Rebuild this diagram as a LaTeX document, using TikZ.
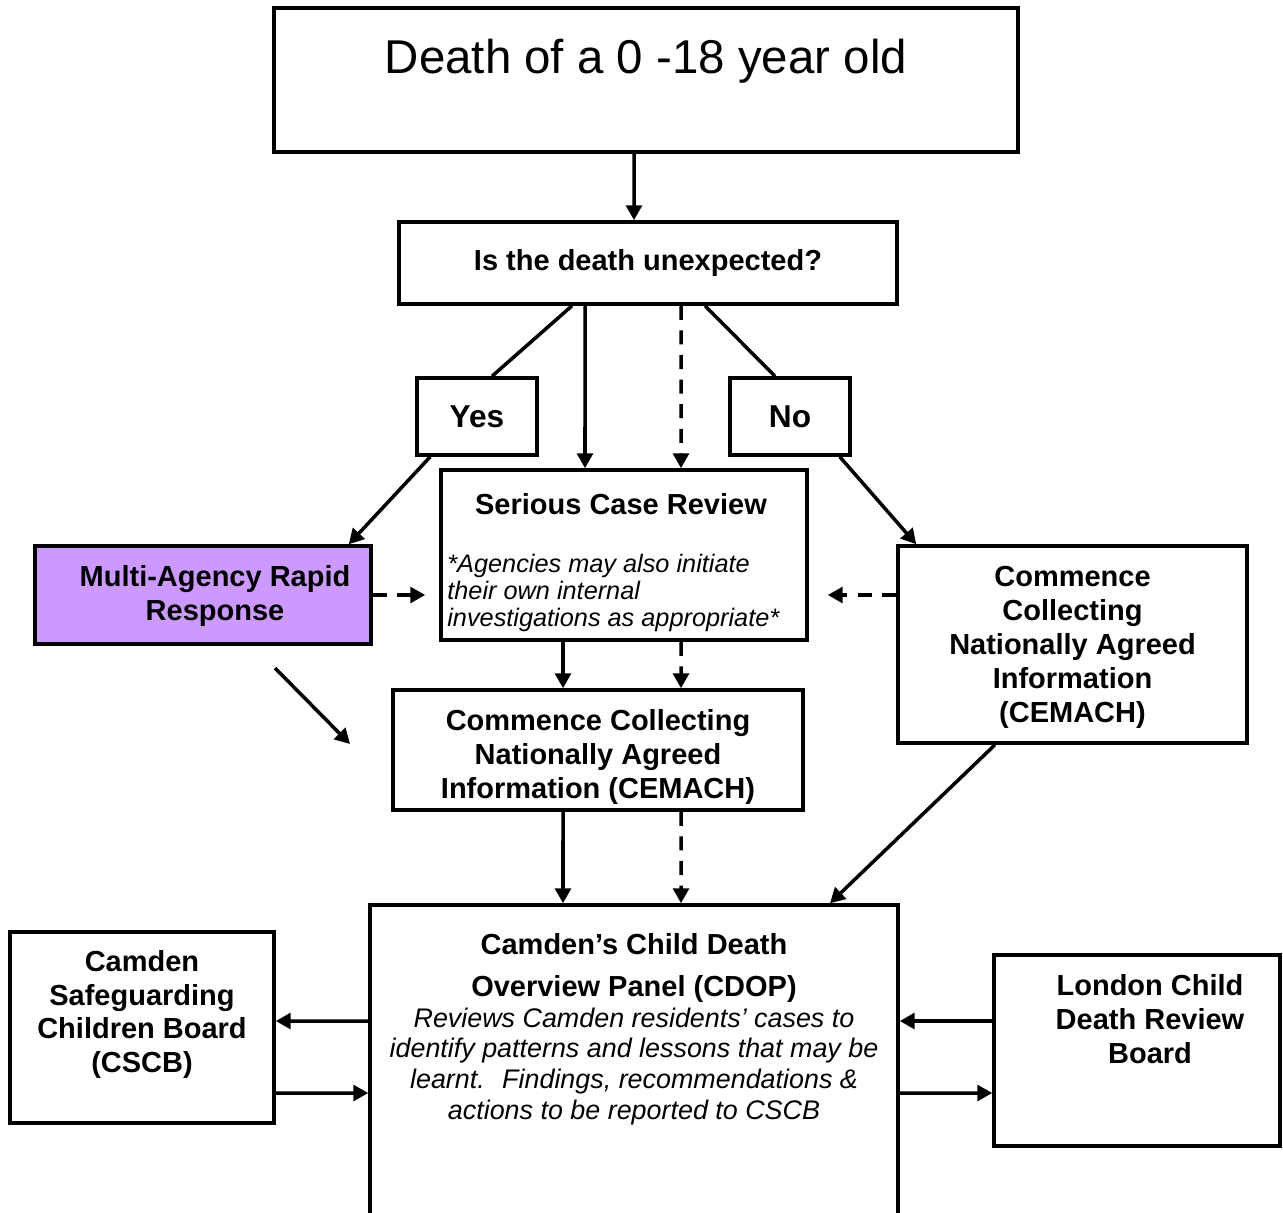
\documentclass[tikz,border=0pt]{standalone}
\usepackage{fontspec}
\setmainfont{Liberation Sans}
\usepackage{tikz}
\definecolor{rrpurple}{HTML}{CC99FF}
\usetikzlibrary{arrows.meta}
\usetikzlibrary{positioning}

\begin{document}
\begin{tikzpicture}
    \tikzset{
      box/.style={draw, line width=2pt, inner sep=0pt, align=center,
        font=\fontsize{16.5}{19.3}\selectfont\bfseries},
      lbl/.style={inner sep=0pt, align=center,
        font=\fontsize{16.5}{19.3}\selectfont\bfseries},
      note/.style={inner sep=0pt, align=left,
        font=\fontsize{14.4}{15.3}\selectfont\itshape},
      arr/.style={line width=2pt, -{Triangle[length=8.5pt,width=9pt]}},
      darr/.style={arr, dash pattern=on 8pt off 6pt}}
    \useasboundingbox (0,0) rectangle (25.66,-24.24);
    \node[box, minimum width=14.88cm, minimum height=2.88cm] at (12.92, -1.60) (death) {};
    \node[lbl, font=\fontsize{27}{32}\selectfont] at (12.92, -1.22) (deathtxt) {Death of a 0 -18 year old};
    \node[box, minimum width=9.96cm, minimum height=1.64cm] at (12.96, -5.26) (ask) {Is the death unexpected?};
    \node[box, font=\fontsize{18}{21}\selectfont\bfseries, minimum width=2.4cm, minimum height=1.54cm] at (9.54, -8.33) (yes) {Yes};
    \node[box, font=\fontsize{18}{21}\selectfont\bfseries, minimum width=2.4cm, minimum height=1.54cm] at (15.80, -8.33) (no) {No};
    \node[box, minimum width=7.32cm, minimum height=3.4cm] at (12.48, -11.10) (scr) {};
    \node[lbl] at (12.42, -10.08) (scrtxt) {Serious Case Review};
    \node[note, anchor=west] at (8.94, -11.86) (scrnote) {*Agencies may also initiate\\their own internal\\investigations as appropriate*};
    \node[box, fill=rrpurple, minimum width=6.72cm, minimum height=1.96cm] at (4.06, -11.90) (marr) {};
    \node[lbl] at (4.30, -11.92) (marrtxt) {Multi-Agency Rapid\\Response};
    \node[box, minimum width=6.98cm, minimum height=3.94cm] at (21.45, -12.89) (cemR) {};
    \node[lbl] at (21.45, -12.95) (cemRtxt) {Commence\\Collecting\\Nationally Agreed\\Information\\(CEMACH)};
    \node[box, minimum width=8.2cm, minimum height=2.4cm] at (11.96, -15.00) (cemM) {};
    \node[lbl] at (11.96, -15.14) (cemMtxt) {Commence Collecting\\Nationally Agreed\\Information (CEMACH)};
    % panel runs off the bottom of the page
    \node[box, minimum width=10.56cm, minimum height=6.7cm] at (12.68, -21.45) (cdop) {};
    \node[lbl, font=\fontsize{15.3}{17.6}\selectfont\itshape, below=0.60cm of cdop.north] (cdoptxt)
      {{\fontsize{16.5}{19.3}\selectfont\upshape\bfseries Camden’s Child Death}\\[6pt]
       {\fontsize{16.5}{19.3}\selectfont\upshape\bfseries Overview Panel (CDOP)}\\
       Reviews Camden residents’ cases to\\
       identify patterns and lessons that may be\\
       learnt.~ Findings, recommendations \&\\
       actions to be reported to CSCB};
    \node[box, minimum width=5.28cm, minimum height=3.82cm] at (2.84, -20.55) (cscb) {};
    \node[lbl] at (2.84, -20.29) (cscbtxt) {Camden\\Safeguarding\\Children Board\\(CSCB)};
    \node[box, minimum width=5.72cm, minimum height=3.82cm] at (22.74, -21.01) (ldn) {};
    \node[lbl] at (23.00, -20.38) (ldntxt) {London Child\\Death Review\\Board};
    \coordinate (f1) at (5.50, -13.36);
    \coordinate (f2) at (7.00, -14.88);
    \draw[arr] ([xshift=-0.24cm]death.south) -- ([xshift=-0.28cm]ask.north);
    \draw[line width=2pt] ([xshift=-1.52cm]ask.south) -- ([xshift=0.3cm]yes.north);
    \draw[line width=2pt] ([xshift=1.14cm]ask.south) -- ([xshift=-0.3cm]no.north);
    \draw[arr] ([xshift=-1.26cm]ask.south) -- ([xshift=-0.78cm]scr.north);
    \draw[darr] ([xshift=0.66cm]ask.south) -- ([xshift=1.14cm]scr.north);
    \draw[arr] ([xshift=0.3cm]yes.south west) -- ([xshift=-0.48cm]marr.north east);
    \draw[arr] ([xshift=-0.24cm]no.south east) -- ([xshift=0.4cm]cemR.north west);
    \draw[darr, shorten >=0.28cm] (marr.east) -- (marr.east -| scr.west);
    \draw[darr, shorten >=0.38cm] (cemR.west |- marr.east) -- (scr.east |- marr.east);
    \draw[arr] ([xshift=-1.22cm]scr.south) -- ([xshift=-0.70cm]cemM.north);
    \draw[darr] ([xshift=1.14cm]scr.south) -- ([xshift=1.66cm]cemM.north);
    \draw[arr] (f1) -- (f2);
    \draw[arr] ([xshift=-0.70cm]cemM.south) -- ([xshift=-1.42cm]cdop.north);
    \draw[darr] ([xshift=1.66cm]cemM.south) -- ([xshift=0.94cm]cdop.north);
    \draw[arr] ([xshift=-1.55cm]cemR.south) -- ([xshift=3.92cm]cdop.north);
    \draw[arr] ([yshift=1.03cm]cdop.west) -- ([yshift=0.13cm]cscb.east);
    \draw[arr] ([yshift=-1.31cm]cscb.east) -- ([yshift=-0.41cm]cdop.west);
    \draw[arr] ([yshift=0.59cm]ldn.west) -- ([yshift=1.03cm]cdop.east);
    \draw[arr] ([yshift=-0.41cm]cdop.east) -- ([yshift=-0.85cm]ldn.west);
  \end{tikzpicture}
\end{document}
